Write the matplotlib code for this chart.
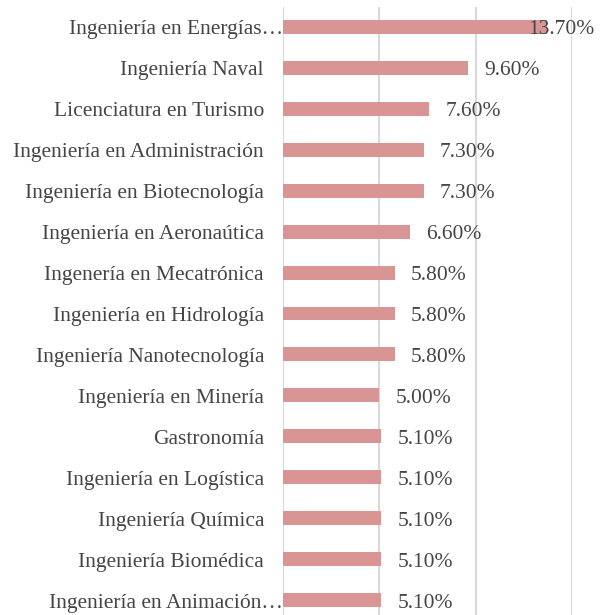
import matplotlib.pyplot as plt
from matplotlib.transforms import offset_copy

# categories from top to bottom, values in percent
carreras = ['Ingeniería en Energías…', 'Ingeniería Naval', 'Licenciatura en Turismo',
            'Ingeniería en Administración', 'Ingeniería en Biotecnología',
            'Ingeniería en Aeronaútica', 'Ingenería en Mecatrónica',
            'Ingeniería en Hidrología', 'Ingeniería Nanotecnología',
            'Ingeniería en Minería', 'Gastronomía', 'Ingeniería en Logística',
            'Ingeniería Química', 'Ingeniería Biomédica', 'Ingeniería en Animación…']
valores = [13.7, 9.6, 7.6, 7.3, 7.3, 6.6, 5.8, 5.8, 5.8, 5.0, 5.1, 5.1, 5.1, 5.1, 5.1]
etiquetas = ['13.70%', '9.60%', '7.60%', '7.30%', '7.30%', '6.60%', '5.80%', '5.80%',
             '5.80%', '5.00%', '5.10%', '5.10%', '5.10%', '5.10%', '5.10%']

plt.rcParams['font.family'] = ['Liberation Serif', 'DejaVu Serif']

fig = plt.figure(figsize=(6.02, 6.15), dpi=100)
ax = fig.add_axes([283 / 602, -0.0089, (572 - 283) / 602, 0.9983])

pos = list(range(len(valores)))
ax.barh(pos, valores, height=0.34, color='#D99594', zorder=3)
ax.set_ylim(len(valores) - 0.5, -0.5)
ax.set_xlim(0, 15)

# vertical gridlines
ax.set_xticks([0, 5, 10, 15])
ax.grid(axis='x', color='#D9D9D9', linewidth=1.5, zorder=0)
ax.tick_params(length=0, labelbottom=False, labelleft=False)
for s in ax.spines.values():
    s.set_visible(False)

# category labels (truncated ones reach the axis)
for p, nombre in zip(pos, carreras):
    gap = 0 if nombre.endswith('…') else 19
    tr = offset_copy(ax.get_yaxis_transform(), fig=fig, x=-gap, y=-7.5, units='dots')
    ax.text(0, p, nombre, transform=tr, ha='right', va='baseline',
            fontsize=15.5, color='#454545')

# value labels
for p, v, et in zip(pos, valores, etiquetas):
    dx = -19 if v == max(valores) else 16
    tr = offset_copy(ax.transData, fig=fig, x=dx, y=-7.5, units='dots')
    ax.text(v, p, et, transform=tr, ha='left', va='baseline',
            fontsize=15.5, color='#454545', zorder=4)

fig.savefig('out.png', dpi=100)
